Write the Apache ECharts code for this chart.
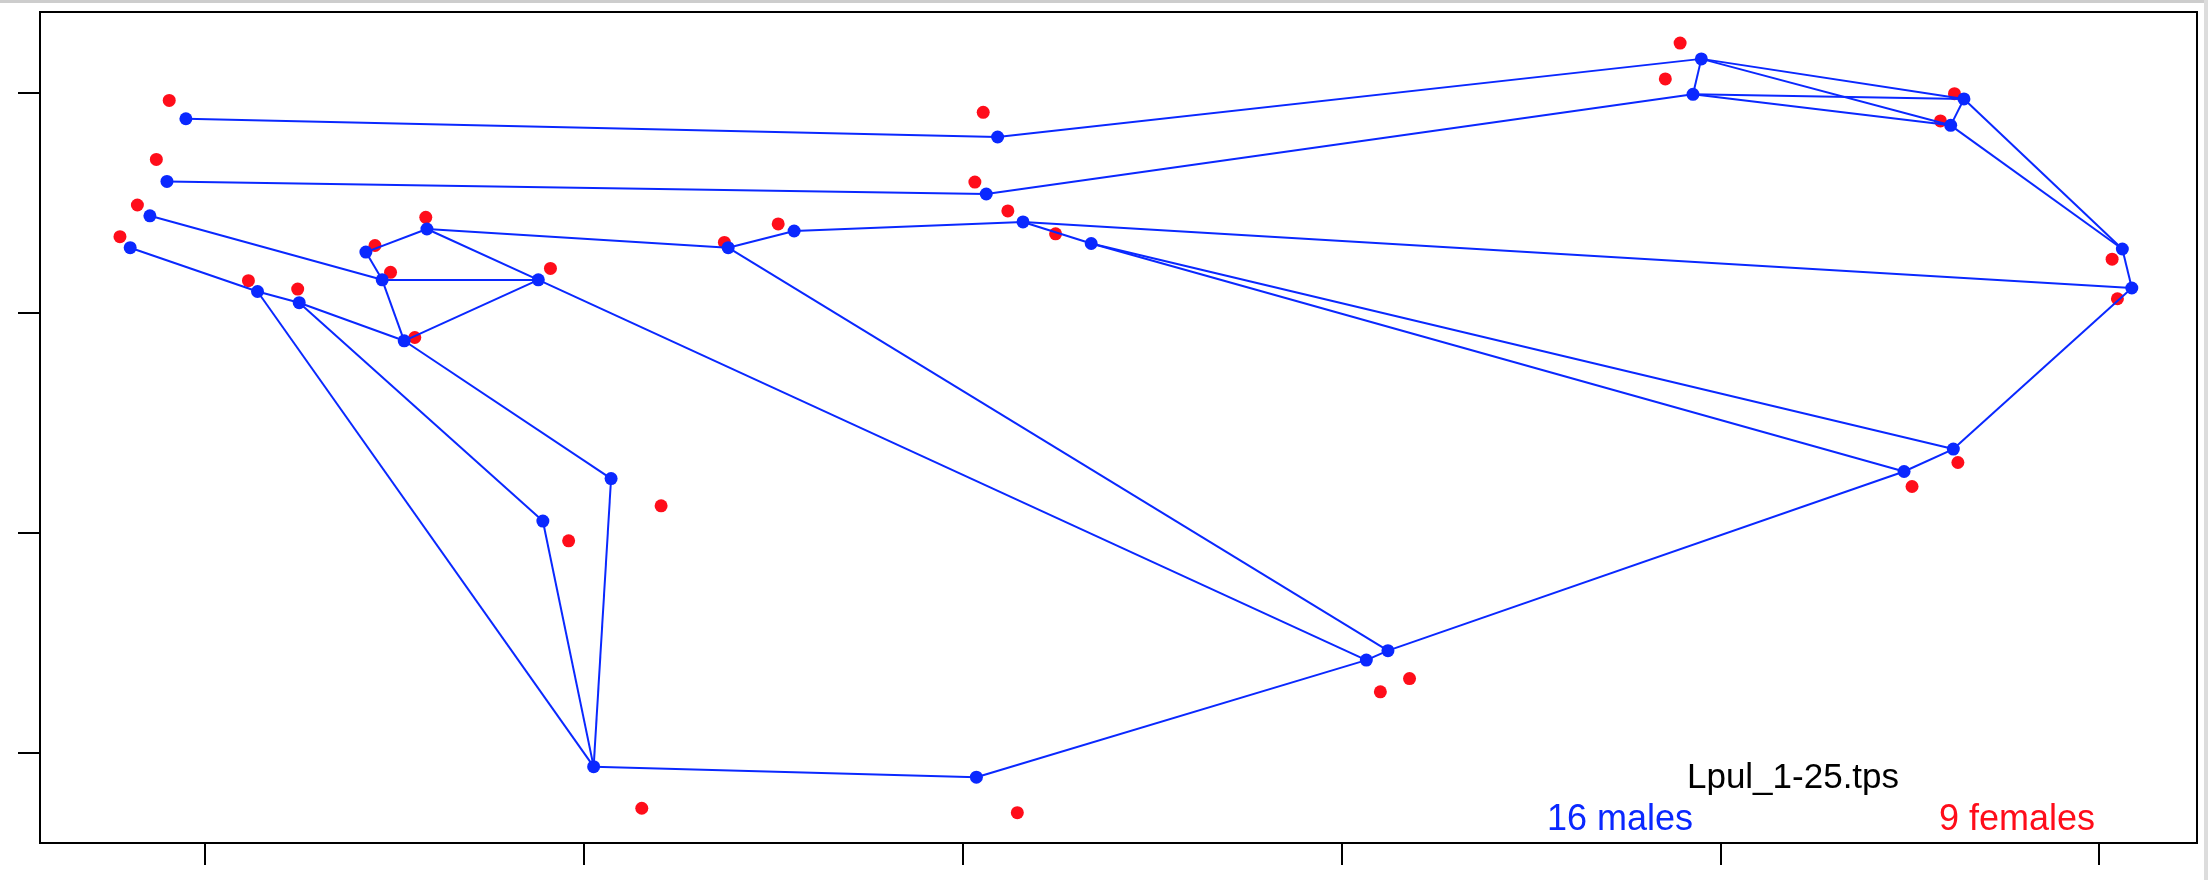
<!DOCTYPE html>
<html>
<head>
<meta charset="utf-8">
<title>Lpul_1-25.tps</title>
<script src="https://cdn.jsdelivr.net/npm/echarts@6/dist/echarts.min.js"></script>
<style>
html,body{margin:0;padding:0;background:#fff;}
#main{width:2208px;height:880px;}
</style>
</head>
<body>
<div id="main"></div>
<script>
// mean landmark configurations (Procrustes coords)
var maleX = [-0.2049, 0.0093, -0.2099, 0.0063, -0.2144, -0.2196, -0.1860, -0.1750, -0.1473, -0.1531,
	-0.1574, -0.1413, -0.1119, -0.0618, -0.0444, 0.0160, 0.0340, 0.1950, 0.1928, 0.2643,
	0.2608, 0.3061, 0.3086, 0.2615, 0.2485, 0.1123, 0.1066, -0.0927, -0.1107, -0.0973, 0.0037];
var maleY = [0.1883, 0.1800, 0.1598, 0.1541, 0.1442, 0.1297, 0.1098, 0.1047, 0.0874, 0.1151,
	0.1277, 0.1382, 0.1151, 0.1297, 0.1373, 0.1414, 0.1316, 0.2155, 0.1994, 0.1973,
	0.1853, 0.1291, 0.1114, 0.0382, 0.0280, -0.0534, -0.0577, 0.0248, 0.0055, -0.1061, -0.1109];
var femaleX = [-0.2093, 0.0055, -0.2127, 0.0033, -0.2177, -0.2223, -0.1884, -0.1754, -0.1445, -0.1509,
	-0.1550, -0.1416, -0.1087, -0.0628, -0.0486, 0.0120, 0.0246, 0.1894, 0.1855, 0.2618,
	0.2581, 0.3034, 0.3048, 0.2627, 0.2506, 0.1180, 0.1103, -0.0795, -0.1039, -0.0846, 0.0145];
var femaleY = [0.1966, 0.1912, 0.1698, 0.1595, 0.1491, 0.1347, 0.1147, 0.1109, 0.0889, 0.1185,
	0.1307, 0.1435, 0.1203, 0.1321, 0.1405, 0.1464, 0.1360, 0.2227, 0.2064, 0.1997,
	0.1873, 0.1245, 0.1065, 0.0321, 0.0212, -0.0661, -0.0721, 0.0124, -0.0035, -0.1250, -0.1270];
// wireframe links (landmark numbers, 1-based)
var links = [[1,2],[2,18],[18,19],[18,20],[18,21],[19,20],[19,21],[20,21],[20,22],[21,22],
	[22,23],[23,24],[24,25],[25,26],[26,27],[27,31],[30,31],[3,4],[4,19],[5,10],
	[6,7],[7,8],[8,9],[7,30],[8,29],[29,30],[9,28],[28,30],[10,11],[11,12],
	[10,13],[10,9],[9,13],[12,13],[13,27],[12,14],[14,15],[15,16],[14,26],[16,23],
	[16,17],[17,24],[17,25]];
var xTicks = [-0.2, -0.1, 0, 0.1, 0.2, 0.3];
var yTicks = [-0.1, 0, 0.1, 0.2];
var fileName = 'Lpul_1-25.tps';
var maleLabel = '16 males';
var femaleLabel = '9 females';

var BLUE = '#0a28ff';
var RED = '#ff0d1a';

var maleData = [];
for (var i = 0; i < maleX.length; i++) {
	maleData.push([maleX[i], maleY[i]]);
}
var femaleData = [];
for (var i = 0; i < femaleX.length; i++) {
	femaleData.push([femaleX[i], femaleY[i]]);
}
var linkData = [];
for (var i = 0; i < links.length; i++) {
	linkData.push({source: links[i][0] - 1, target: links[i][1] - 1});
}

var chart = echarts.init(document.getElementById('main'));
var option = {
	backgroundColor: '#fff',
	animation: false,
	grid: {
		left: 40, right: 11, top: 12, bottom: 37,
		show: true, borderColor: '#000', borderWidth: 2
	},
	xAxis: {
		type: 'value', min: -0.2434, max: 0.3258, position: 'bottom',
		axisLine: {show: false, onZero: false},
		splitLine: {show: false},
		axisLabel: {show: false},
		axisTick: {show: true, length: 22, customValues: xTicks, lineStyle: {color: '#000', width: 2}}
	},
	yAxis: {
		type: 'value', min: -0.1408, max: 0.2368, position: 'left',
		axisLine: {show: false, onZero: false},
		splitLine: {show: false},
		axisLabel: {show: false},
		axisTick: {show: true, length: 22, customValues: yTicks, lineStyle: {color: '#000', width: 2}}
	},
	series: [
		{
			type: 'scatter', name: 'females', z: 2,
			data: femaleData, symbol: 'circle', symbolSize: 13,
			itemStyle: {color: RED, opacity: 1}
		},
		{
			type: 'graph', name: 'males', z: 3,
			coordinateSystem: 'cartesian2d', layout: 'none',
			data: maleData, links: linkData,
			symbol: 'circle', symbolSize: 13,
			itemStyle: {color: BLUE, opacity: 1},
			lineStyle: {color: BLUE, width: 2, opacity: 1, curveness: 0},
			label: {show: false},
			emphasis: {disabled: true}
		}
	],
	graphic: [
		{type: 'rect', shape: {x: 0, y: 0, width: 2208, height: 3}, style: {fill: '#cdcdcd'}},
		{type: 'rect', shape: {x: 2204, y: 0, width: 4, height: 880}, style: {fill: '#dcdcdc'}},
		{type: 'text', x: 1793, y: 778, z: 10,
			style: {text: fileName, fill: '#000', font: '35px "Liberation Sans", Arial, sans-serif', align: 'center', verticalAlign: 'middle'}},
		{type: 'text', x: 1620, y: 820, z: 10,
			style: {text: maleLabel, fill: BLUE, font: '36px "Liberation Sans", Arial, sans-serif', align: 'center', verticalAlign: 'middle'}},
		{type: 'text', x: 2017, y: 820, z: 10,
			style: {text: femaleLabel, fill: RED, font: '36px "Liberation Sans", Arial, sans-serif', align: 'center', verticalAlign: 'middle'}}
	]
};
chart.setOption(option);
</script>
</body>
</html>
